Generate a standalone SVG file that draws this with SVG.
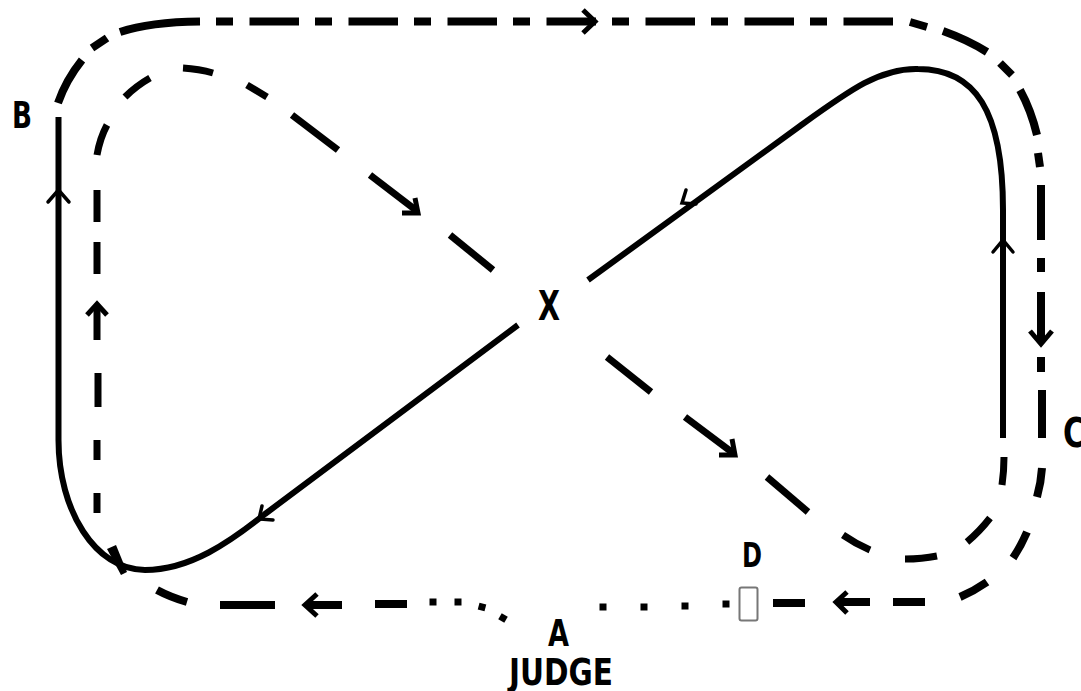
<svg xmlns="http://www.w3.org/2000/svg" width="1081" height="691" viewBox="0 0 1081 691">
<style>
.o{fill:none;stroke:#000;stroke-width:8}
.i{fill:none;stroke:#000;stroke-width:7}
.s{fill:none;stroke:#000;stroke-width:6;stroke-linejoin:round}
.ah{fill:none;stroke:#000;stroke-width:3.5;stroke-linecap:round;stroke-linejoin:miter}
.ahb{fill:none;stroke:#000;stroke-width:5;stroke-linejoin:miter}
.dot{fill:#000}
.lbl{font-family:'DejaVu Sans Condensed','DejaVu Sans','Liberation Sans',sans-serif;font-stretch:condensed;font-weight:bold;fill:#000}
</style>
<rect width="1081" height="691" fill="#fff"/>
<g id="connectors">
  <g id="outer-track">
    <path class="o" d="M58,103 Q66,80 82,60"/>
    <path class="o" d="M92,48 L107,38"/>
    <path class="o" d="M120,32 Q150,22 200,21.5"/>
    <path class="o" d="M216,21.5 L893,21.5" stroke-dasharray="17 16.5 49.5 16"/>
    <path class="ahb" d="M583,10 L595,21.5 L583,33"/>
    <path class="o" d="M910,22 L927,27"/>
    <path class="o" d="M943,31 Q968,40 987,52"/>
    <path class="o" d="M1000,63 L1012,75"/>
    <path class="o" d="M1020,90 Q1031,110 1037,135"/>
    <path class="o" d="M1038,153 L1040,167"/>
    <path class="o" d="M1041,185 L1041,240"/>
    <path class="o" d="M1041,258 L1041,272"/>
    <path class="o" d="M1041,292 L1041,342"/>
    <path class="ahb" d="M1030,331 L1041,344 L1052,331"/>
    <path class="o" d="M1041,357 L1041,372"/>
    <path class="o" d="M1042,390 L1042,438"/>
    <path class="o" d="M1042,468 Q1041,483 1037,497"/>
    <path class="o" d="M1027,532 Q1021,546 1013,558"/>
    <path class="o" d="M987,582 Q974,591 960,597"/>
    <path class="o" d="M925,602 L893,602"/>
    <path class="o" d="M870,602 L837,602"/>
    <path class="ahb" d="M847,592 L836,602 L847,613"/>
    <path class="o" d="M805,603 L773,603"/>
    <rect class="dot" x="722.5" y="600.5" width="7" height="7"/>
    <rect class="dot" x="681.5" y="602.5" width="7" height="7"/>
    <rect class="dot" x="640.5" y="603.5" width="7" height="7"/>
    <rect class="dot" x="599.5" y="603.5" width="7" height="7"/>
    <rect class="dot" x="499.5" y="614.5" width="7" height="7" transform="rotate(30 503 618)"/>
    <rect class="dot" x="478.5" y="603.5" width="7" height="7" transform="rotate(15 482 607)"/>
    <rect class="dot" x="454.5" y="598.5" width="7" height="7"/>
    <rect class="dot" x="429.5" y="598.5" width="7" height="7"/>
    <path class="o" d="M407,604 L375,604"/>
    <path class="o" d="M342,605 L306,605"/>
    <path class="ahb" d="M317,594 L305,605 L317,616"/>
    <path class="o" d="M275,605 L220,605"/>
    <path class="o" d="M187,602 Q170,597 157,590"/>
  </g>
  <g id="inner-dashed">
    <path class="i" d="M97,513 L97,493"/>
    <path class="i" d="M97,460 L97,440"/>
    <path class="i" d="M98,407 L98,373"/>
    <path class="i" d="M97,340 L97,305"/>
    <path class="ahb" d="M87,315 L97,304 L107,315"/>
    <path class="i" d="M97,274 L97,242"/>
    <path class="i" d="M97,222 L97,190"/>
    <path class="i" d="M97,155 Q100,138 107,125"/>
    <path class="i" d="M125,97 Q136,86 150,78"/>
    <path class="i" d="M183,68 Q199,69 213,73"/>
    <path class="i" d="M247,85 L267,97"/>
    <path class="i" d="M292,115 L338,150"/>
    <path class="i" d="M370,175 L417,211"/>
    <path class="ahb" d="M402,213 L418,213 L415,198"/>
    <path class="i" d="M450,235 L493,270"/>
    <path class="i" d="M607,357 L651,392"/>
    <path class="i" d="M685,417 L733,453"/>
    <path class="ahb" d="M719,455 L735,455 L732,439"/>
    <path class="i" d="M767,477 L808,512"/>
    <path class="i" d="M843,535 Q856,544 870,550"/>
    <path class="i" d="M905,559 Q922,559 937,556"/>
    <path class="i" d="M967,542 Q980,531 990,518"/>
    <path class="i" d="M1002,485 Q1004,471 1004,457"/>
  </g>
  <g id="solid-path">
    <path class="s" d="M58.5,117 L58.5,440 C58.5,510 95,570 145,570 C190,570 230,542 265,514 L518,325"/>
    <path class="s" d="M588,280 L800,126 C850,90 880,68 918,69 C975,69 1003,110 1003,210 L1003,438"/>
    <path class="ah" d="M48,202 L58.5,190 L69,202"/>
    <path class="ah" d="M993,252 L1003,240 L1013,252"/>
    <path class="ah" d="M686,190 L682,203 L696,204"/>
    <path class="ah" d="M262,506 L259,519 L273,520"/>
    <path d="M107,549 L116,545 L127,572 L121,575 Z" fill="#000"/>
  </g>
</g>
<g id="node-B"><text class="lbl" x="12" y="128" font-size="38" textLength="20" lengthAdjust="spacingAndGlyphs">B</text></g>
<g id="node-X"><text class="lbl" x="538" y="320" font-size="41" textLength="22" lengthAdjust="spacingAndGlyphs">X</text></g>
<g id="node-C"><text class="lbl" x="1063" y="447" font-size="40" textLength="22" lengthAdjust="spacingAndGlyphs">C</text></g>
<g id="node-D">
  <text class="lbl" x="742" y="567" font-size="34" textLength="20" lengthAdjust="spacingAndGlyphs">D</text>
  <rect x="739.5" y="587.5" width="18" height="33" rx="2" fill="#fff" stroke="#777" stroke-width="2"/>
</g>
<g id="node-A">
  <text class="lbl" x="548" y="646" font-size="38" textLength="21" lengthAdjust="spacingAndGlyphs">A</text>
  <text class="lbl" x="509" y="685" font-size="38" textLength="104" lengthAdjust="spacingAndGlyphs">JUDGE</text>
</g>
</svg>
